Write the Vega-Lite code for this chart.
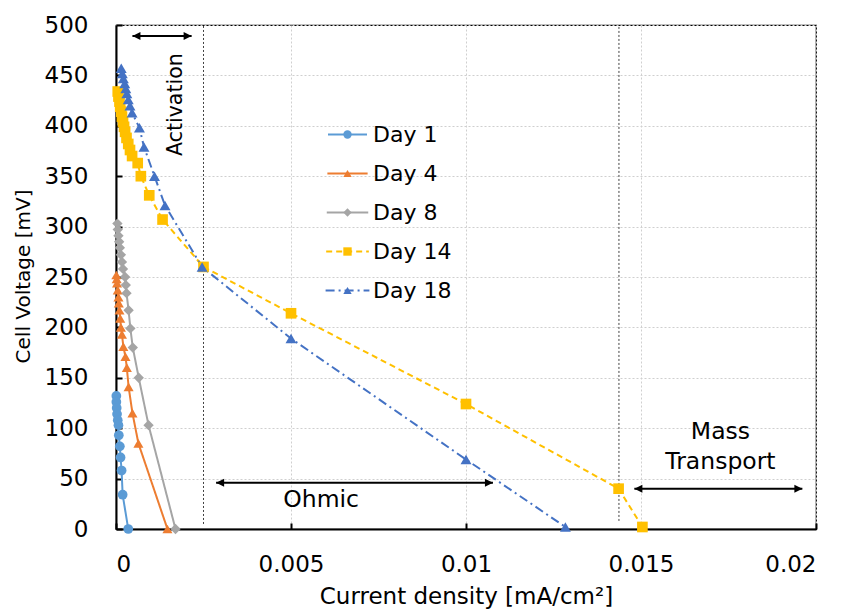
{
  "$schema": "https://vega.github.io/schema/vega-lite/v6.json",
  "width": 700,
  "height": 504,
  "autosize": {"type": "none"},
  "padding": {"left": 116, "top": 25, "right": 27, "bottom": 81},
  "background": "white",
  "config": {
    "font": "DejaVu Sans",
    "view": {"stroke": "#000000", "strokeWidth": 1.2},
    "axis": {
      "gridColor": "#cfcfcf", "gridDash": [2, 2], "gridWidth": 1,
      "domainColor": "#000000", "domainWidth": 2,
      "tickColor": "#000000", "tickWidth": 2, "tickSize": -6,
      "labelFont": "DejaVu Sans", "labelFontSize": 23, "labelColor": "#000000",
      "titleFont": "DejaVu Sans", "titleFontSize": 23, "titleFontWeight": "normal", "titleColor": "#000000"
    },
    "text": {"font": "DejaVu Sans"}
  },
  "datasets": {
    "curves": [
      {"day": "Day 1", "j": 0.00001, "v": 132}, {"day": "Day 1", "j": 0.00001, "v": 126}, {"day": "Day 1", "j": 0.00002, "v": 120},
      {"day": "Day 1", "j": 0.00003, "v": 114}, {"day": "Day 1", "j": 0.00005, "v": 108}, {"day": "Day 1", "j": 0.00007, "v": 103},
      {"day": "Day 1", "j": 0.00008, "v": 93}, {"day": "Day 1", "j": 0.00011, "v": 82}, {"day": "Day 1", "j": 0.00013, "v": 71},
      {"day": "Day 1", "j": 0.00016, "v": 58}, {"day": "Day 1", "j": 0.00019, "v": 34}, {"day": "Day 1", "j": 0.00035, "v": 0},
      {"day": "Day 4", "j": 0.00001, "v": 252}, {"day": "Day 4", "j": 0.00002, "v": 248}, {"day": "Day 4", "j": 0.00003, "v": 244},
      {"day": "Day 4", "j": 0.00005, "v": 237}, {"day": "Day 4", "j": 0.00007, "v": 230}, {"day": "Day 4", "j": 0.00008, "v": 224},
      {"day": "Day 4", "j": 0.0001, "v": 217}, {"day": "Day 4", "j": 0.00012, "v": 209}, {"day": "Day 4", "j": 0.00014, "v": 200},
      {"day": "Day 4", "j": 0.00017, "v": 193}, {"day": "Day 4", "j": 0.00021, "v": 181}, {"day": "Day 4", "j": 0.00027, "v": 171},
      {"day": "Day 4", "j": 0.00031, "v": 160}, {"day": "Day 4", "j": 0.00036, "v": 141}, {"day": "Day 4", "j": 0.00047, "v": 115},
      {"day": "Day 4", "j": 0.00064, "v": 85}, {"day": "Day 4", "j": 0.00147, "v": 0},
      {"day": "Day 8", "j": 0.00004, "v": 303}, {"day": "Day 8", "j": 0.00005, "v": 297}, {"day": "Day 8", "j": 0.00007, "v": 291},
      {"day": "Day 8", "j": 0.00009, "v": 285}, {"day": "Day 8", "j": 0.00011, "v": 279}, {"day": "Day 8", "j": 0.00014, "v": 272},
      {"day": "Day 8", "j": 0.00017, "v": 265}, {"day": "Day 8", "j": 0.0002, "v": 258}, {"day": "Day 8", "j": 0.00026, "v": 250},
      {"day": "Day 8", "j": 0.00028, "v": 242}, {"day": "Day 8", "j": 0.0003, "v": 234}, {"day": "Day 8", "j": 0.00036, "v": 217},
      {"day": "Day 8", "j": 0.00041, "v": 199}, {"day": "Day 8", "j": 0.00048, "v": 180}, {"day": "Day 8", "j": 0.00065, "v": 150},
      {"day": "Day 8", "j": 0.00093, "v": 103}, {"day": "Day 8", "j": 0.0017, "v": 0},
      {"day": "Day 14", "j": 0.00005, "v": 434}, {"day": "Day 14", "j": 0.00007, "v": 429}, {"day": "Day 14", "j": 0.0001, "v": 424},
      {"day": "Day 14", "j": 0.00012, "v": 419}, {"day": "Day 14", "j": 0.00015, "v": 414}, {"day": "Day 14", "j": 0.00017, "v": 409},
      {"day": "Day 14", "j": 0.0002, "v": 404}, {"day": "Day 14", "j": 0.00023, "v": 399}, {"day": "Day 14", "j": 0.00026, "v": 394},
      {"day": "Day 14", "j": 0.0003, "v": 388}, {"day": "Day 14", "j": 0.00035, "v": 382}, {"day": "Day 14", "j": 0.0004, "v": 376},
      {"day": "Day 14", "j": 0.00046, "v": 370}, {"day": "Day 14", "j": 0.00062, "v": 363}, {"day": "Day 14", "j": 0.00071, "v": 350},
      {"day": "Day 14", "j": 0.00095, "v": 331}, {"day": "Day 14", "j": 0.00133, "v": 307}, {"day": "Day 14", "j": 0.0025, "v": 260},
      {"day": "Day 14", "j": 0.005, "v": 214}, {"day": "Day 14", "j": 0.01, "v": 124}, {"day": "Day 14", "j": 0.01436, "v": 40},
      {"day": "Day 14", "j": 0.01504, "v": 2},
      {"day": "Day 18", "j": 0.00015, "v": 457}, {"day": "Day 18", "j": 0.00018, "v": 452}, {"day": "Day 18", "j": 0.00021, "v": 447},
      {"day": "Day 18", "j": 0.00025, "v": 442}, {"day": "Day 18", "j": 0.00028, "v": 437}, {"day": "Day 18", "j": 0.00031, "v": 432},
      {"day": "Day 18", "j": 0.00035, "v": 426}, {"day": "Day 18", "j": 0.0004, "v": 420}, {"day": "Day 18", "j": 0.00046, "v": 413},
      {"day": "Day 18", "j": 0.00067, "v": 398}, {"day": "Day 18", "j": 0.0008, "v": 379}, {"day": "Day 18", "j": 0.0011, "v": 350},
      {"day": "Day 18", "j": 0.0014, "v": 321}, {"day": "Day 18", "j": 0.00246, "v": 260}, {"day": "Day 18", "j": 0.005, "v": 189},
      {"day": "Day 18", "j": 0.01, "v": 69}, {"day": "Day 18", "j": 0.01284, "v": 2}
    ],
    "vlines": [
      {"j": 0.0025, "v": 5, "v2": 500},
      {"j": 0.01437, "v": 8, "v2": 500}
    ],
    "arrows": [
      {"arrow": "Activation", "end": "left", "j": 0.00047, "v": 489},
      {"arrow": "Activation", "end": "right", "j": 0.00216, "v": 489},
      {"arrow": "Ohmic", "end": "left", "j": 0.00286, "v": 46},
      {"arrow": "Ohmic", "end": "right", "j": 0.01077, "v": 46},
      {"arrow": "Mass Transport", "end": "left", "j": 0.01481, "v": 40},
      {"arrow": "Mass Transport", "end": "right", "j": 0.01961, "v": 40}
    ],
    "notes": [
      {"text": "Activation", "j": 0.0017, "v": 421},
      {"text": "Ohmic", "j": 0.00586, "v": 29},
      {"text": "Mass", "j": 0.01727, "v": 96},
      {"text": "Transport", "j": 0.01727, "v": 66}
    ]
  },
  "encoding": {
    "x": {
      "field": "j", "type": "quantitative",
      "scale": {"domain": [0, 0.02], "nice": false},
      "axis": {
        "title": "Current density [mA/cm²]", "values": [0, 0.005, 0.01, 0.015, 0.02], "format": ".3~f",
        "labelPadding": 30, "titleX": 350, "titleY": 67, "titleBaseline": "middle", "titleAlign": "center"
      }
    },
    "y": {
      "field": "v", "type": "quantitative",
      "scale": {"domain": [0, 500], "nice": false},
      "axis": {
        "title": "Cell Voltage [mV]", "values": [0, 50, 100, 150, 200, 250, 300, 350, 400, 450, 500],
        "labelPadding": 34, "titleX": -93, "titleY": 251, "titleAngle": 270, "titleBaseline": "middle", "titleAlign": "center", "titleFontSize": 20
      }
    }
  },
  "layer": [
    {
      "data": {"name": "vlines"},
      "mark": {"type": "rule", "color": "#404040", "strokeDash": [2, 2], "strokeWidth": 1},
      "encoding": {"y2": {"field": "v2"}}
    },
    {
      "data": {"name": "curves"},
      "mark": {"type": "line", "strokeWidth": 2},
      "encoding": {
        "stroke": {
          "field": "day", "type": "nominal",
          "scale": {"domain": ["Day 1", "Day 4", "Day 8", "Day 14", "Day 18"], "range": ["#5B9BD5", "#ED7D31", "#A5A5A5", "#FFC000", "#4472C4"]},
          "legend": {"title": null, "orient": "none", "legendX": 220.5, "legendY": 98.5, "symbolType": "M-4,0H4", "symbolStrokeWidth": 2, "symbolOffset": 0, "rowPadding": 17, "labelExpr": "''", "padding": 0, "labelFontSize": 22}
        },
        "strokeDash": {
          "field": "day", "type": "nominal",
          "scale": {"domain": ["Day 1", "Day 4", "Day 8", "Day 14", "Day 18"], "range": [[1, 0], [1, 0], [1, 0], [6, 4], [9, 4, 2, 4]]},
          "legend": {"title": null, "orient": "none", "legendX": 220.5, "legendY": 98.5, "symbolType": "M-4,0H4", "symbolStrokeWidth": 2, "symbolOffset": 0, "rowPadding": 17, "labelExpr": "''", "padding": 0, "labelFontSize": 22}
        },
        "order": {"field": "v", "sort": "descending"}
      }
    },
    {
      "data": {"name": "curves"},
      "mark": {"type": "point", "filled": true, "opacity": 1, "strokeWidth": 0},
      "encoding": {
        "fill": {
          "field": "day", "type": "nominal", "sort": {"field": "v", "op": "max", "order": "ascending"},
          "scale": {"range": ["#5B9BD5", "#ED7D31", "#A5A5A5", "#FFC000", "#4472C4"]},
          "legend": {"title": null, "orient": "none", "legendX": 220.5, "legendY": 98.5, "symbolSize": 70, "symbolOffset": 0, "labelOffset": 14.5, "rowPadding": 17, "padding": 0, "labelFontSize": 22, "labelColor": "#000000", "labelFont": "DejaVu Sans", "symbolStrokeWidth": 0}
        },
        "shape": {
          "field": "day", "type": "nominal", "sort": {"field": "v", "op": "max", "order": "ascending"},
          "scale": {"range": ["circle", "triangle-up", "diamond", "square", "triangle-up"]},
          "legend": {"title": null, "orient": "none", "legendX": 220.5, "legendY": 98.5, "symbolSize": 70, "symbolOffset": 0, "labelOffset": 14.5, "rowPadding": 17, "padding": 0, "labelFontSize": 22, "labelColor": "#000000", "labelFont": "DejaVu Sans", "symbolStrokeWidth": 0}
        },
        "size": {
          "field": "day", "type": "nominal",
          "scale": {"domain": ["Day 1", "Day 4", "Day 8", "Day 14", "Day 18"], "range": [95, 120, 70, 120, 120]},
          "legend": null
        }
      }
    },
    {
      "data": {"name": "arrows"},
      "mark": {"type": "line", "color": "#000000", "strokeWidth": 2},
      "encoding": {"detail": {"field": "arrow"}}
    },
    {
      "data": {"name": "arrows"},
      "transform": [{"filter": "datum.end == 'left'"}],
      "mark": {"type": "point", "shape": "M0,0L4,-2L4,2Z", "filled": true, "color": "#000000", "opacity": 1, "size": 16},
      "encoding": {}
    },
    {
      "data": {"name": "arrows"},
      "transform": [{"filter": "datum.end == 'right'"}],
      "mark": {"type": "point", "shape": "M0,0L-4,-2L-4,2Z", "filled": true, "color": "#000000", "opacity": 1, "size": 16},
      "encoding": {}
    },
    {
      "data": {"name": "notes"},
      "transform": [{"filter": "datum.text == 'Activation'"}],
      "mark": {"type": "text", "fontSize": 20.5, "color": "#000000", "align": "center", "baseline": "middle", "angle": 270},
      "encoding": {"text": {"field": "text"}}
    },
    {
      "data": {"name": "notes"},
      "transform": [{"filter": "datum.text != 'Activation'"}],
      "mark": {"type": "text", "fontSize": 23.5, "color": "#000000", "align": "center", "baseline": "middle"},
      "encoding": {"text": {"field": "text"}}
    }
  ]
}
